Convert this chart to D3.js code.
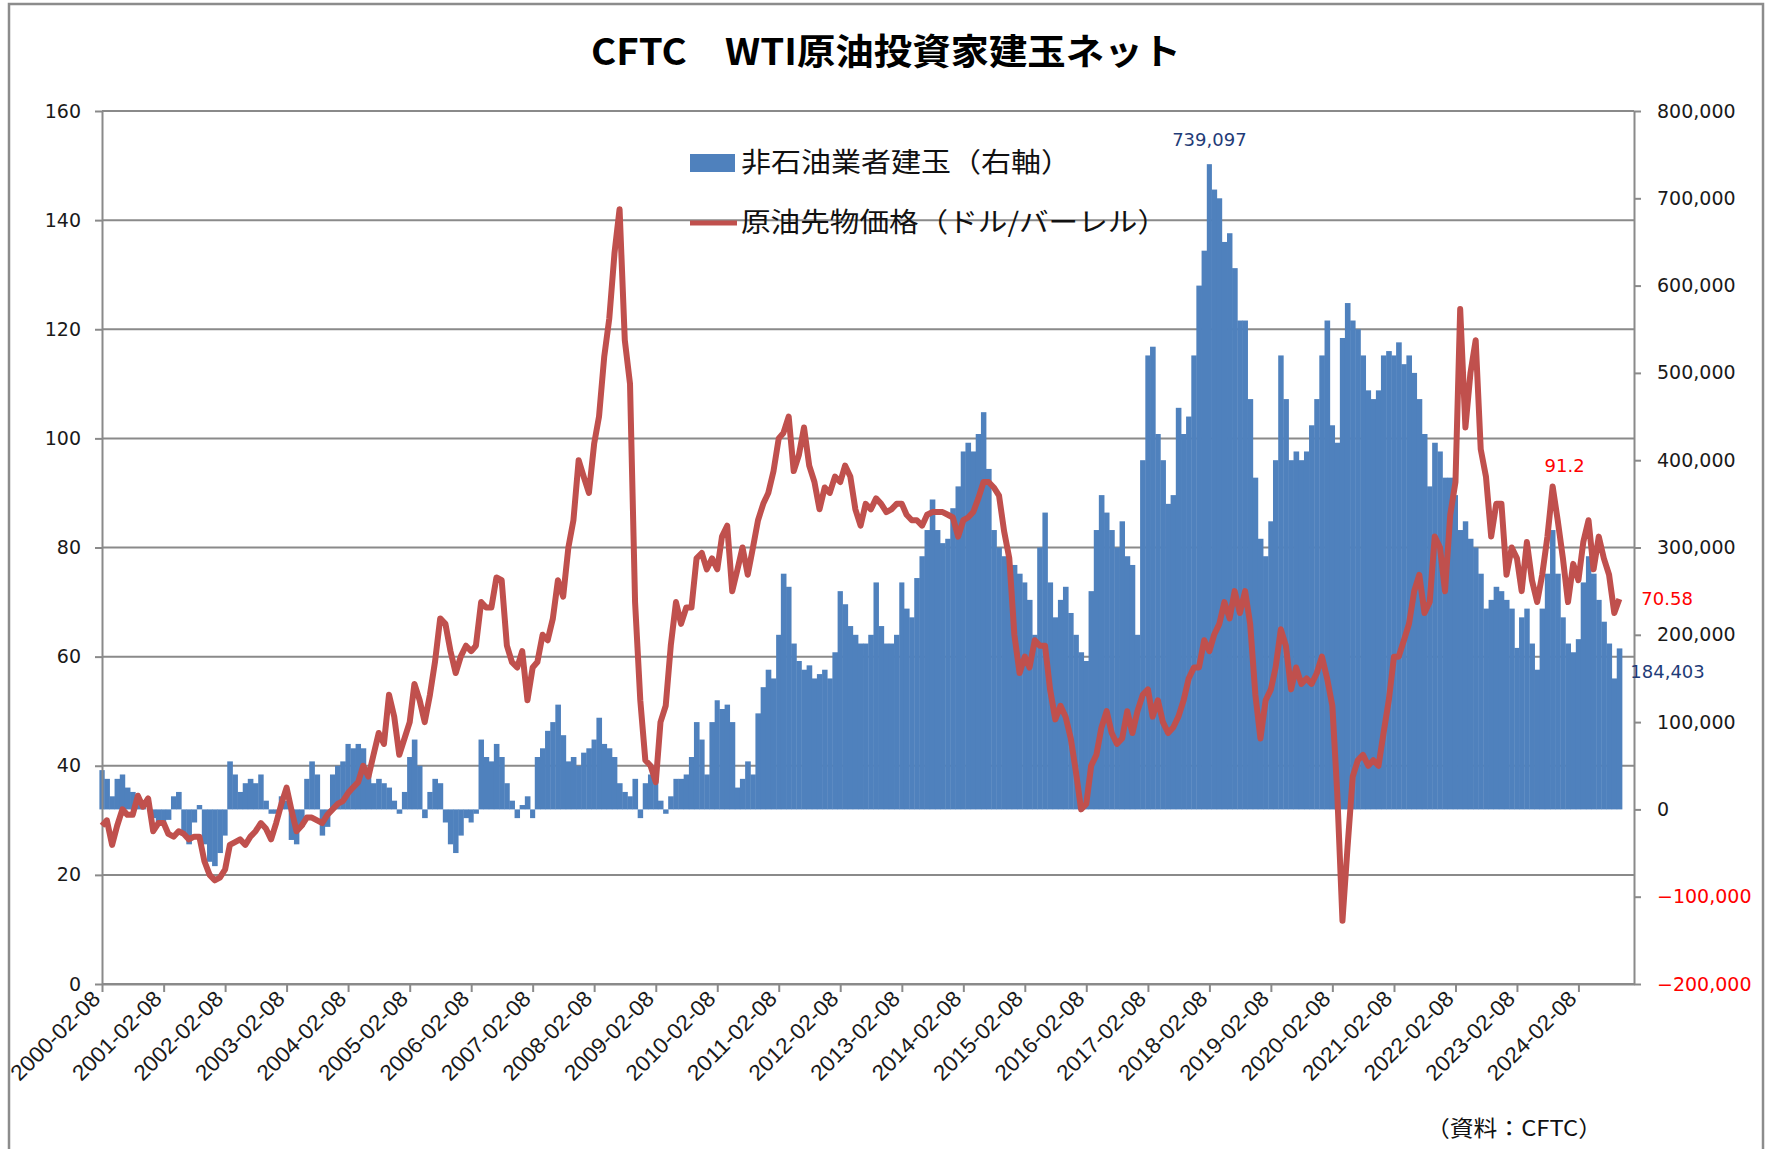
<!DOCTYPE html>
<html>
<head>
<meta charset="utf-8">
<script src="https://cdn.jsdelivr.net/npm/d3@7"></script>
<style>
body { margin: 0; background: #fff; }
svg text { font-family: "DejaVu Sans", sans-serif; }
</style>
</head>
<body>
<svg id="chart" width="1772" height="1149"></svg>
<script>
// monthly readings, first point 2000-02-08
const startDate = new Date(2000, 1, 8)
const endDate = new Date(2025, 0, 3)

const xLabels = ["2000-02-08","2001-02-08","2002-02-08","2003-02-08","2004-02-08","2005-02-08",
  "2006-02-08","2007-02-08","2008-02-08","2009-02-08","2010-02-08","2011-02-08","2012-02-08",
  "2013-02-08","2014-02-08","2015-02-08","2016-02-08","2017-02-08","2018-02-08","2019-02-08",
  "2020-02-08","2021-02-08","2022-02-08","2023-02-08","2024-02-08"]

// WTI price (USD/bbl)
const price = [
  29, 30, 25.5, 29, 32, 31, 31, 34.5, 32.5, 34, 28, 29.5,
  29.5, 27.5, 27, 28, 27.5, 26.5, 27, 27, 22.5, 20, 19, 19.5,
  21, 25.5, 26, 26.5, 25.5, 27, 28, 29.5, 28.5, 26.5, 29.5, 33,
  36, 32, 28, 29, 30.5, 30.5, 30, 29.5, 31, 32, 33, 33.5,
  35, 36, 37, 40, 38, 42, 46, 44, 53, 49, 42, 45,
  48, 55, 52, 48, 53, 59, 67, 66, 61, 57, 60, 62,
  61, 62, 70, 69, 69, 74.5, 74, 62, 59, 58, 61, 52,
  58, 59, 64, 63, 67, 74, 71, 80, 85, 96, 93, 90,
  99, 104, 115, 122, 134, 142, 118, 110, 70, 52, 41, 40,
  37, 48, 51, 62, 70, 66, 69, 69, 78, 79, 76, 78,
  76, 82, 84, 72, 76, 80, 75, 80, 85, 88, 90, 94,
  100, 101, 104, 94, 97, 102, 95, 92, 87, 91, 90, 93,
  92, 95, 93, 87, 84, 88, 87, 89, 88, 86.5, 87, 88,
  88, 86, 85, 85, 84, 86, 86.5, 86.5, 86.5, 86, 85.5, 82,
  85, 85.5, 86.5, 89, 92, 92, 91, 89.5, 83, 78, 64, 57,
  60, 58, 63, 62, 62, 54, 48.5, 51, 49, 45, 39, 32,
  33, 40, 42, 47, 50, 46, 44, 45, 50, 46, 50, 53,
  54, 49, 52, 48, 46, 47, 49, 52, 56, 58, 58, 63,
  61, 64, 66, 70, 67, 72, 68, 72, 66, 53, 45, 52,
  54, 58, 65, 62, 54, 58, 55, 56, 55, 57, 60, 56,
  51, 35, 11.6, 25, 38, 41, 42, 40, 41, 40, 46, 52,
  60, 60, 63, 66, 72, 75, 68, 70, 82, 80, 72, 86,
  92, 123.7, 102, 112, 118, 98, 93, 82, 88, 88, 75, 80,
  78, 72, 81, 74, 70, 75, 82, 91.2, 85, 78, 70, 77,
  74, 81, 85, 76, 82, 78, 75, 68, 70.58
]

// non-commercial net position (thousand contracts)
const netK = [
  45, 35, 15, 35, 40, 25, 20, 8, 3, 0, -10, -15,
  -15, -12, 15, 20, -30, -40, -15, 5, -40, -60, -65, -50,
  -30, 55, 40, 20, 30, 35, 30, 40, 10, -5, -5, 15,
  10, -35, -40, -20, 35, 55, 40, -30, -20, 40, 50, 55,
  75, 70, 75, 70, 45, 30, 35, 30, 25, 10, -5, 20,
  60, 80, 50, -10, 20, 35, 30, -15, -40, -50, -30, -10,
  -15, -5, 80, 60, 55, 75, 60, 30, 10, -10, 5, 15,
  -10, 60, 70, 90, 100, 120, 85, 55, 60, 50, 65, 70,
  80, 105, 75, 70, 60, 30, 20, 15, 35, -10, 30, 40,
  35, 10, -5, 15, 35, 35, 40, 60, 100, 80, 40, 100,
  125, 115, 120, 100, 25, 35, 55, 40, 110, 140, 160, 150,
  200, 270, 255, 190, 170, 160, 165, 150, 155, 160, 150, 180,
  250, 235, 210, 200, 190, 190, 200, 260, 210, 190, 190, 200,
  260, 230, 220, 265, 290, 320, 355, 320, 305, 310, 345, 370,
  410, 420, 410, 430, 455, 390, 320, 300, 290, 280, 280, 270,
  260, 240, 200, 300, 340, 260, 220, 240, 255, 225, 200, 180,
  170, 250, 320, 360, 340, 320, 300, 330, 290, 280, 200, 400,
  520, 530, 430, 400, 350, 360, 460, 430, 450, 520, 600, 640,
  739.097, 710, 700, 650, 660, 620, 560, 560, 470, 380, 310, 290,
  330, 400, 520, 470, 400, 410, 400, 410, 440, 470, 520, 560,
  440, 420, 540, 580, 560, 550, 520, 480, 470, 480, 520, 525,
  520, 535, 510, 520, 500, 470, 430, 370, 420, 410, 380, 380,
  360, 320, 330, 310, 300, 270, 230, 240, 255, 250, 240, 230,
  185, 220, 230, 190, 160, 230, 270, 320, 270, 220, 190, 180,
  195, 260, 290, 270, 240, 215, 190, 150, 184.403
]

const leftTicks = [0, 20, 40, 60, 80, 100, 120, 140, 160]
const rightTicks = [-200, -100, 0, 100, 200, 300, 400, 500, 600, 700, 800]

const titleText = "CFTC\u3000WTI原油投資家建玉ネット"
const legendBars = "非石油業者建玉（右軸）"
const legendLine = "原油先物価格（ドル/バーレル）"
const sourceText = "（資料：CFTC）"

const barColor = "#4f81bd"
const lineColor = "#c0504d"
const gridColor = "#8a8a8a"

const svg = d3.select("#chart")
const parse = d3.timeParse("%Y-%m-%d")
const dates = price.map((d, i) => d3.timeMonth.offset(startDate, i))

const x = d3.scaleTime().domain([startDate, endDate]).range([102, 1634])
const yL = d3.scaleLinear().domain([0, 160]).range([984, 111])
const yR = d3.scaleLinear().domain([-200, 800]).range([984, 111])

// outer frame
svg.append("rect")
    .attr("x", 9).attr("y", 4)
    .attr("width", 1754).attr("height", 1200)
    .attr("fill", "none").attr("stroke", "#8c8c8c").attr("stroke-width", 2.5)

svg.append("text")
    .attr("x", 886).attr("y", 52).attr("dy", "0.35em")
    .attr("text-anchor", "middle")
    .style("font-family", "'Noto Sans CJK JP', sans-serif")
    .style("font-weight", 700).style("font-size", "36px")
    .attr("textLength", 590).attr("lengthAdjust", "spacingAndGlyphs")
    .text(titleText)

// gridlines
svg.append("g").selectAll("line")
    .data(leftTicks)
    .join("line")
    .attr("x1", 102).attr("x2", 1634)
    .attr("y1", d => yL(d)).attr("y2", d => yL(d))
    .attr("stroke", gridColor).attr("stroke-width", 2)

// bars (right axis)
svg.append("g").selectAll("rect")
    .data(netK)
    .join("rect")
    .attr("x", (d, i) => x(dates[i]) - 2.6)
    .attr("width", (d, i) => x(d3.timeMonth.offset(dates[i], 1)) - x(dates[i]) + 0.4)
    .attr("y", d => Math.min(yR(d), yR(0)))
    .attr("height", d => Math.abs(yR(d) - yR(0)))
    .attr("fill", barColor)

// axes
const styleAxis = g => {
    g.selectAll(".domain").attr("stroke", gridColor).attr("stroke-width", 2)
    g.selectAll(".tick line").attr("stroke", gridColor).attr("stroke-width", 2)
    g.selectAll("text").attr("fill", "#1a1a1a")
}

svg.append("g")
    .attr("transform", "translate(102,0)")
    .call(d3.axisLeft(yL).tickValues(leftTicks).tickSize(7).tickSizeOuter(0).tickPadding(14))
    .call(styleAxis)
    .call(g => g.selectAll("text").style("font-size", "19px").style("font-family", "'DejaVu Sans'"))

svg.append("g")
    .attr("transform", "translate(1634,0)")
    .call(d3.axisRight(yR).tickValues(rightTicks).tickSize(7).tickSizeOuter(0).tickPadding(16)
        .tickFormat(d => d3.format(",")(d * 1000)))
    .call(styleAxis)
    .call(g => g.selectAll("text")
        .style("font-size", "19px").style("font-family", "'DejaVu Sans'")
        .attr("fill", d => d < 0 ? "#ff0000" : "#1a1a1a"))

svg.append("g")
    .attr("transform", "translate(0,984)")
    .call(d3.axisBottom(x).tickValues(xLabels.map(parse)).tickSize(8).tickSizeOuter(0)
        .tickFormat((d, i) => xLabels[i]))
    .call(styleAxis)
    .call(g => g.selectAll("text")
        .attr("x", -12).attr("y", 3).attr("dy", "0.35em")
        .attr("text-anchor", "end")
        .attr("transform", "rotate(-45)")
        .style("font-size", "22px").style("font-family", "'Liberation Sans'")
        .attr("textLength", 116).attr("lengthAdjust", "spacingAndGlyphs"))

// price line (left axis)
const line = d3.line()
    .x((d, i) => x(dates[i]))
    .y(d => yL(d))

svg.append("path")
    .datum(price)
    .attr("d", line)
    .attr("fill", "none")
    .attr("stroke", lineColor)
    .attr("stroke-width", 6)
    .attr("stroke-linejoin", "round")

// legend
const legend = svg.append("g")
legend.append("rect")
    .attr("x", 690).attr("y", 154).attr("width", 45).attr("height", 18)
    .attr("fill", barColor)
legend.append("line")
    .attr("x1", 690).attr("x2", 737).attr("y1", 223).attr("y2", 223)
    .attr("stroke", lineColor).attr("stroke-width", 5)
legend.selectAll("text")
    .data([[legendBars, 163, 330], [legendLine, 223, 426]])
    .join("text")
    .attr("x", 741).attr("y", d => d[1]).attr("dy", "0.35em")
    .style("font-family", "'Noto Sans CJK JP', sans-serif")
    .style("font-size", "27px")
    .attr("fill", "#111")
    .attr("textLength", d => d[2]).attr("lengthAdjust", "spacingAndGlyphs")
    .text(d => d[0])

// data labels
const fmt = d3.format(",")
const maxIdx = d3.maxIndex(netK)
const last = price.length - 1
const peak91 = price.indexOf(91.2)

svg.append("text")
    .attr("x", x(dates[maxIdx])).attr("y", yR(netK[maxIdx]) - 18)
    .attr("text-anchor", "middle").attr("fill", "#1f3c78").style("font-size", "18px")
    .text(fmt(Math.round(netK[maxIdx] * 1000)))

svg.append("text")
    .attr("x", x(dates[peak91]) + 12).attr("y", yL(price[peak91]) - 14)
    .attr("text-anchor", "middle").attr("fill", "#ff0000").style("font-size", "18px")
    .text(price[peak91])

svg.append("text")
    .attr("x", x(dates[last]) + 22).attr("y", yL(price[last])).attr("dy", "0.35em")
    .attr("fill", "#ff0000").style("font-size", "18px")
    .text(price[last])

svg.append("text")
    .attr("x", x(dates[last]) + 11).attr("y", yR(netK[last]) + 23).attr("dy", "0.35em")
    .attr("fill", "#1f3c78").style("font-size", "18px")
    .text(fmt(Math.round(netK[last] * 1000)))

svg.append("text")
    .attr("x", 1426).attr("y", 1128).attr("dy", "0.35em")
    .style("font-family", "'Noto Sans CJK JP', sans-serif").style("font-size", "22px")
    .attr("fill", "#111")
    .attr("textLength", 176).attr("lengthAdjust", "spacingAndGlyphs")
    .text(sourceText)
</script>
</body>
</html>
